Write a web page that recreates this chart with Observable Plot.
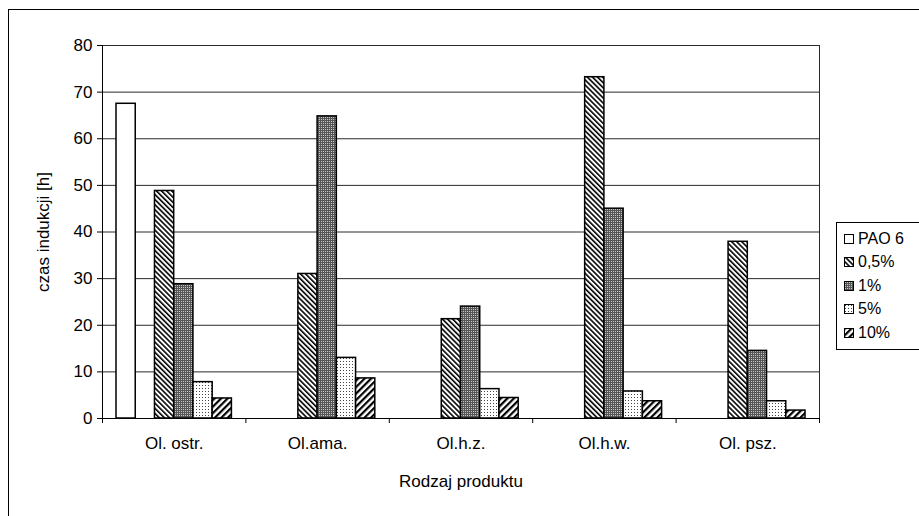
<!DOCTYPE html>
<html>
<head>
<meta charset="utf-8">
<script src="https://cdn.jsdelivr.net/npm/d3@7"></script>
<script src="https://cdn.jsdelivr.net/npm/@observablehq/plot@0.6"></script>
<style>
  html, body { margin: 0; padding: 0; background: #fff; }
  #wrap { position: relative; width: 919px; height: 516px; overflow: hidden; font-family: "Liberation Sans", Arial, sans-serif; }
  #border { position: absolute; left: 8px; top: 9px; width: 1000px; height: 600px; border-left: 1px solid #000; border-top: 1px solid #000; box-sizing: border-box; }
  #legend { position: absolute; left: 836px; top: 222px; width: 100px; border: 1px solid #000; background: #fff; padding: 4px 0 4px 7px; box-sizing: border-box; }
  .row { display: flex; align-items: center; height: 23.5px; font-size: 16px; color: #000; }
  .row svg { margin-right: 4px; }
  #chart { position: absolute; left: 0; top: 0; }
</style>
</head>
<body>
<div id="wrap">
  <div id="border"></div>
  <div id="chart"></div>
  <div id="legend"></div>
</div>
<script>
const categories = ["Ol. ostr.", "Ol.ama.", "Ol.h.z.", "Ol.h.w.", "Ol. psz."];
const series = ["PAO 6", "0,5%", "1%", "5%", "10%"];
const pao6   = [67.5, null, null, null, null];
const p05    = [48.8, 31.0, 21.3, 73.2, 37.9];
const p1     = [28.8, 64.8, 24.0, 45.0, 14.5];
const p5     = [7.8, 13.0, 6.3, 5.8, 3.7];
const p10    = [4.3, 8.6, 4.4, 3.7, 1.7];
const yTicks = [0, 10, 20, 30, 40, 50, 60, 70, 80];

const seriesValues = [pao6, p05, p1, p5, p10];
// slot positions within a group: PAO 6 in slot 0, slot 1 empty, then the rest
const slotOf = [0, 2, 3, 4, 5];
const patternId = ["pPAO", "p05", "p1", "p5", "p10"];

const rows = [];
categories.forEach((c, ci) => {
  seriesValues.forEach((vals, si) => {
    if (vals[ci] != null) rows.push({cat: c, ci, series: series[si], si, slot: slotOf[si], value: vals[ci]});
  });
});

const groupPad = 0.0976;   // outer gap of each category band
const slotW = (1 - 2 * groupPad) / 6;

const plot = Plot.plot({
  width: 919,
  height: 516,
  marginLeft: 102,
  marginRight: 100,
  marginTop: 45,
  marginBottom: 98,
  style: {fontFamily: "'Liberation Sans', Arial, sans-serif", fontSize: "16px", background: "transparent", overflow: "visible"},
  x: {domain: [0, categories.length]},
  y: {domain: [0, 80]},
  marks: [
    Plot.ruleY(yTicks.slice(1), {stroke: "#2a2a2a", strokeWidth: 1}),
    Plot.ruleX([categories.length], {stroke: "#2a2a2a", strokeWidth: 1}),
    Plot.rectY(rows, {
      x1: d => d.ci + groupPad + d.slot * slotW,
      x2: d => d.ci + groupPad + (d.slot + 1) * slotW,
      y: "value",
      fill: d => `url(#${patternId[d.si]})`,
      stroke: "#000",
      strokeWidth: 1.5
    }),
    Plot.ruleX([0], {stroke: "#000", strokeWidth: 1}),
    Plot.ruleY([0], {stroke: "#000", strokeWidth: 1}),
    Plot.axisY({ticks: yTicks, tickSize: 5, tickPadding: 5, fontSize: 17, label: "czas indukcji [h]", labelAnchor: "center", labelArrow: "none", labelOffset: 66}),
    Plot.axisX({ticks: d3.range(categories.length + 1), tickSize: 5, tickFormat: () => "", label: null}),
    Plot.axisX({ticks: categories.map((c, i) => i + 0.5), tickSize: 0, tickPadding: 18, fontSize: 17,
      tickFormat: v => categories[Math.floor(v)], label: "Rodzaj produktu", labelAnchor: "center", labelArrow: "none", labelOffset: 68})
  ]
});

// pattern fills
const defs = d3.select(plot).insert("defs", ":first-child");
function pat(id, w, h, rot) {
  const p = defs.append("pattern").attr("id", id).attr("patternUnits", "userSpaceOnUse")
    .attr("width", w).attr("height", h);
  if (rot) p.attr("patternTransform", `rotate(${rot})`);
  return p;
}
pat("pPAO", 4, 4).append("rect").attr("width", 4).attr("height", 4).attr("fill", "#fff");
{ const p = pat("p05", 3.6, 4, -45);
  p.append("rect").attr("width", 3.6).attr("height", 4).attr("fill", "#fff");
  p.append("rect").attr("width", 1.6).attr("height", 4).attr("fill", "#000"); }
{ const p = pat("p1", 2, 2);
  p.append("rect").attr("width", 2).attr("height", 2).attr("fill", "#555");
  p.append("rect").attr("x", 1).attr("y", 1).attr("width", 1).attr("height", 1).attr("fill", "#c8c8c8"); }
{ const p = pat("p5", 3, 3);
  p.append("rect").attr("width", 3).attr("height", 3).attr("fill", "#fff");
  p.append("rect").attr("x", 1).attr("y", 1).attr("width", 1).attr("height", 1).attr("fill", "#444"); }
{ const p = pat("p10", 4.6, 4, 45);
  p.append("rect").attr("width", 4.6).attr("height", 4).attr("fill", "#fff");
  p.append("rect").attr("width", 2.2).attr("height", 4).attr("fill", "#000"); }

document.getElementById("chart").appendChild(plot);

// legend
const legend = d3.select("#legend");
series.forEach((s, i) => {
  const row = legend.append("div").attr("class", "row");
  const sw = row.append("svg").attr("width", 10).attr("height", 10);
  sw.append("rect").attr("x", 0.5).attr("y", 0.5).attr("width", 9).attr("height", 9)
    .attr("fill", `url(#${patternId[i]})`).attr("stroke", "#000");
  row.append("span").text(s);
});
</script>
</body>
</html>
